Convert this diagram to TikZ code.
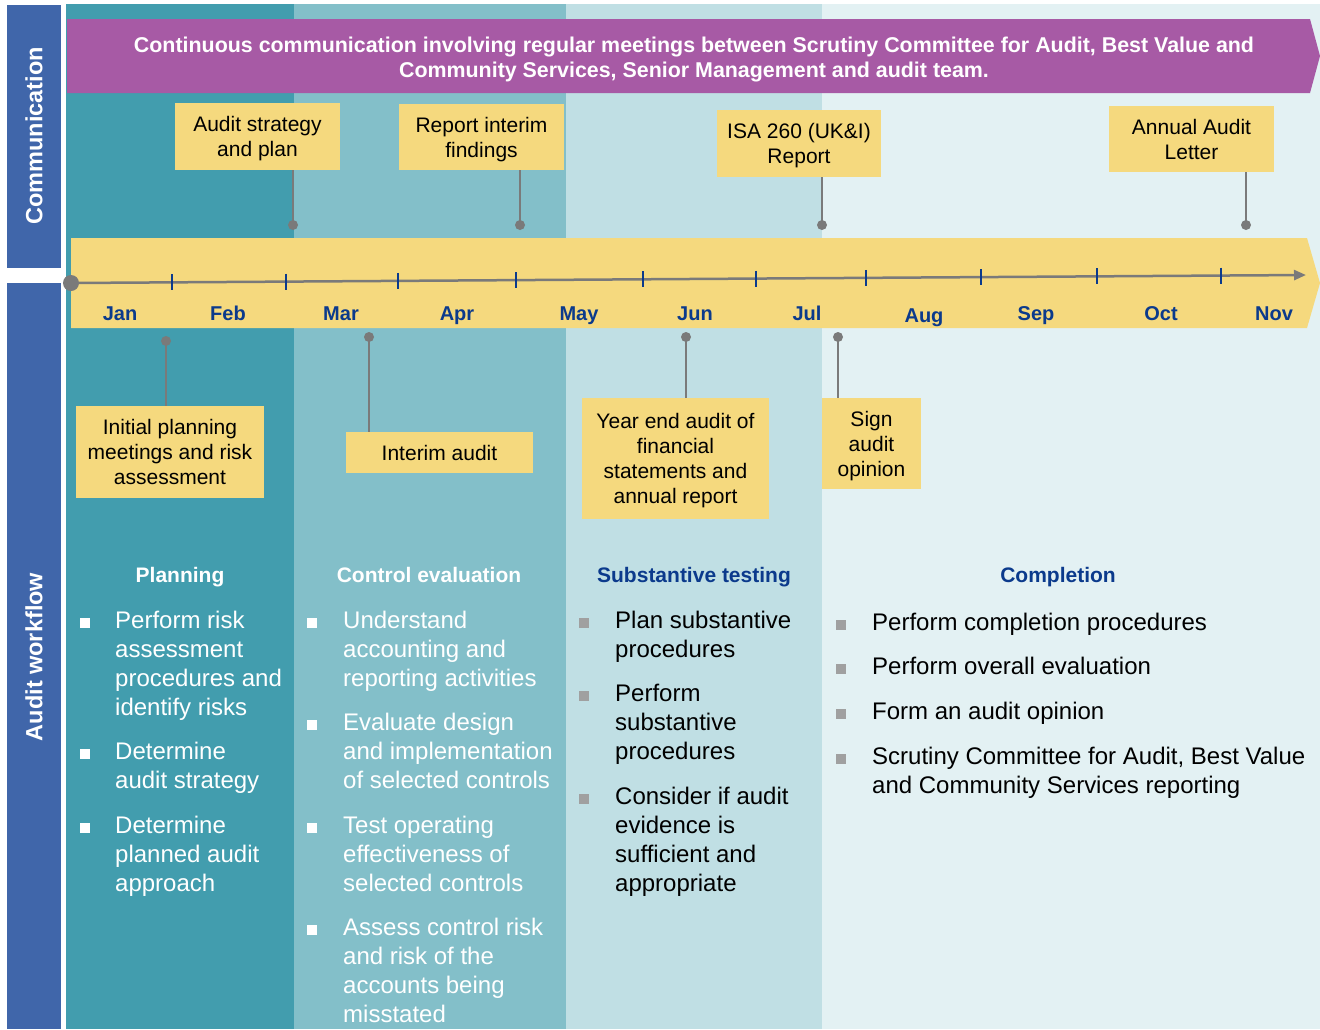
\documentclass[tikz,border=0pt]{standalone}
\usepackage{fontspec}
\setmainfont{Liberation Sans}
\usetikzlibrary{arrows.meta}
\definecolor{sidebar}{HTML}{4066AA}
\definecolor{colA}{HTML}{429DAE}
\definecolor{colB}{HTML}{83BFC9}
\definecolor{colC}{HTML}{C0DFE4}
\definecolor{colD}{HTML}{E3F1F3}
\definecolor{banner}{HTML}{A75AA5}
\definecolor{ylw}{HTML}{F5D97E}
\definecolor{dblue}{HTML}{0B3A8C}
\definecolor{gline}{HTML}{7A7A7A}
\definecolor{gbul}{HTML}{A0A0A0}
\begin{document}
\begin{tikzpicture}[x=1pt,y=-1pt,
  callout/.style={fill=ylw,inner sep=0pt,align=center,font=\fontsize{21}{25}\selectfont,text depth=0pt},
  dot/.style={circle,fill=gline,inner sep=0pt,minimum size=10pt},
  conn/.style={draw=gline,line width=2.5pt},
  month/.style={font=\fontsize{20}{24}\selectfont\bfseries,text=dblue,anchor=base},
  phase/.style={font=\fontsize{21}{25}\selectfont\bfseries,anchor=base},
  item/.style={anchor=base west,align=left,inner sep=0pt,font=\fontsize{24}{29}\selectfont},
  side/.style={font=\fontsize{23.5}{28}\selectfont\bfseries,text=white,rotate=90}
]
\useasboundingbox (0,0) rectangle (1320,1029);
\fill[white] (0,0) rectangle (1320,1029);
% columns
\fill[colA] (66,4) rectangle (294,1029);
\fill[colB] (294,4) rectangle (566,1029);
\fill[colC] (566,4) rectangle (822,1029);
\fill[colD] (822,4) rectangle (1320,1029);
% side bars
\fill[sidebar] (7,5) rectangle (61,268);
\fill[sidebar] (7,283) rectangle (61,1029);
\node[side] (comm) at (34,136) {Communication};
\node[side] (wf) at (34,657) {Audit workflow};
% banner
\fill[banner] (67,19) -- (1310,19) -- (1320,56) -- (1310,93) -- (67,93) -- cycle;
\node[font=\fontsize{21.4}{25}\selectfont\bfseries,text=white,align=center] (ban) at (694,60)
 {Continuous communication involving regular meetings between Scrutiny Committee for Audit, Best Value and\\Community Services, Senior Management and audit team.};
% timeline band
\fill[ylw] (71,238) -- (1307,238) -- (1320,283) -- (1307,328) -- (71,328) -- cycle;
\coordinate (t0) at (71,283);
\coordinate (t1) at (1306,275);
\draw[draw=gline,line width=2.5pt,-{Triangle[length=12pt,width=10pt]}] (t0) -- (t1);
\node[circle,fill=gline,inner sep=0pt,minimum size=16pt] (start) at (t0) {};
\foreach \x in {172,286,398,516,643,756,866,981,1097,1221}{
  \pgfmathsetmacro{\yy}{283-8*(\x-71)/1235}
  \draw[dblue,line width=1.3pt] (\x,\yy-8) -- (\x,\yy+8);
}
% months
\foreach \m/\x/\y in {Jan/120/320,Feb/228/320,Mar/341/320,Apr/457/320,May/579/320,Jun/695/320,Jul/807/320,Aug/924/322,Sep/1036/320,Oct/1161/320,Nov/1274/320}{
  \node[month] at (\x,\y) {\m};
}
% callouts above
\node[callout,minimum width=165pt,minimum height=67pt] (a1) at (257.5,136.5) {Audit strategy\\and plan};
\node[callout,minimum width=165pt,minimum height=66pt] (a2) at (481.5,137) {Report interim\\findings};
\node[callout,minimum width=164pt,minimum height=67pt] (a3) at (799,143.5) {ISA 260 (UK\&I)\\Report};
\node[callout,minimum width=165pt,minimum height=66pt] (a4) at (1191.5,139) {Annual Audit\\Letter};
\node[dot] (d1) at (293,225) {};
\node[dot] (d2) at (520,225) {};
\node[dot] (d3) at (822,225) {};
\node[dot] (d4) at (1246,225) {};
\draw[conn] (d1 |- a1.south) -- (d1.center);
\draw[conn] (d2 |- a2.south) -- (d2.center);
\draw[conn] (d3 |- a3.south) -- (d3.center);
\draw[conn] (d4 |- a4.south) -- (d4.center);
% callouts below
\node[callout,minimum width=188pt,minimum height=92pt] (b1) at (170,452) {Initial planning\\meetings and risk\\assessment};
\node[callout,minimum width=187pt,minimum height=41pt] (b2) at (439.5,452.5) {Interim audit};
\node[callout,minimum width=187pt,minimum height=121pt] (b3) at (675.5,458.5) {Year end audit of\\financial\\statements and\\annual report};
\node[callout,minimum width=99pt,minimum height=91pt] (b4) at (871.5,443.5) {Sign\\audit\\opinion};
\node[dot] (e1) at (166,341) {};
\node[dot] (e2) at (369,337) {};
\node[dot] (e3) at (686,337) {};
\node[dot] (e4) at (838,337) {};
\draw[conn] (e1.center) -- (e1 |- b1.north);
\draw[conn] (e2.center) -- (e2 |- b2.north);
\draw[conn] (e3.center) -- (e3 |- b3.north);
\draw[conn] (e4.center) -- (e4 |- b4.north);
% phases
\node[phase,text=white] (p1) at (180,582) {Planning};
\node[phase,text=white] (p2) at (429,582) {Control evaluation};
\node[phase,text=dblue] (p3) at (694,582) {Substantive testing};
\node[phase,text=dblue] (p4) at (1058,582) {Completion};
% column 1 (anchor = baseline of last line)
\foreach \y in {623,754,828}{\fill[white] (80,\y-5) rectangle (90,\y+5);}
\node[item,text=white] (i11) at (115,715) {Perform risk\\assessment\\procedures and\\identify risks};
\node[item,text=white] (i12) at (115,788) {Determine\\audit strategy};
\node[item,text=white] (i13) at (115,891) {Determine\\planned audit\\approach};
% column 2
\foreach \y in {623,725,828,930}{\fill[white] (307,\y-5) rectangle (317,\y+5);}
\node[item,text=white] (i21) at (343,686) {Understand\\accounting and\\reporting activities};
\node[item,text=white] (i22) at (343,788) {Evaluate design\\and implementation\\of selected controls};
\node[item,text=white] (i23) at (343,891) {Test operating\\effectiveness of\\selected controls};
\node[item,text=white] (i24) at (343,1022) {Assess control risk\\and risk of the\\accounts being\\misstated};
% column 3
\foreach \y in {623,696,799}{\fill[gbul] (579,\y-5) rectangle (589,\y+5);}
\node[item] (i31) at (615,657) {Plan substantive\\procedures};
\node[item] (i32) at (615,759) {Perform\\substantive\\procedures};
\node[item] (i33) at (615,891) {Consider if audit\\evidence is\\sufficient and\\appropriate};
% column 4
\foreach \y in {625,669,714,759}{\fill[gbul] (836,\y-5) rectangle (846,\y+5);}
\node[item] (i41) at (872,630) {Perform completion procedures};
\node[item] (i42) at (872,674) {Perform overall evaluation};
\node[item] (i43) at (872,719) {Form an audit opinion};
\node[item] (i44) at (872,793) {Scrutiny Committee for Audit, Best Value\\and Community Services reporting};
\end{tikzpicture}
\end{document}
